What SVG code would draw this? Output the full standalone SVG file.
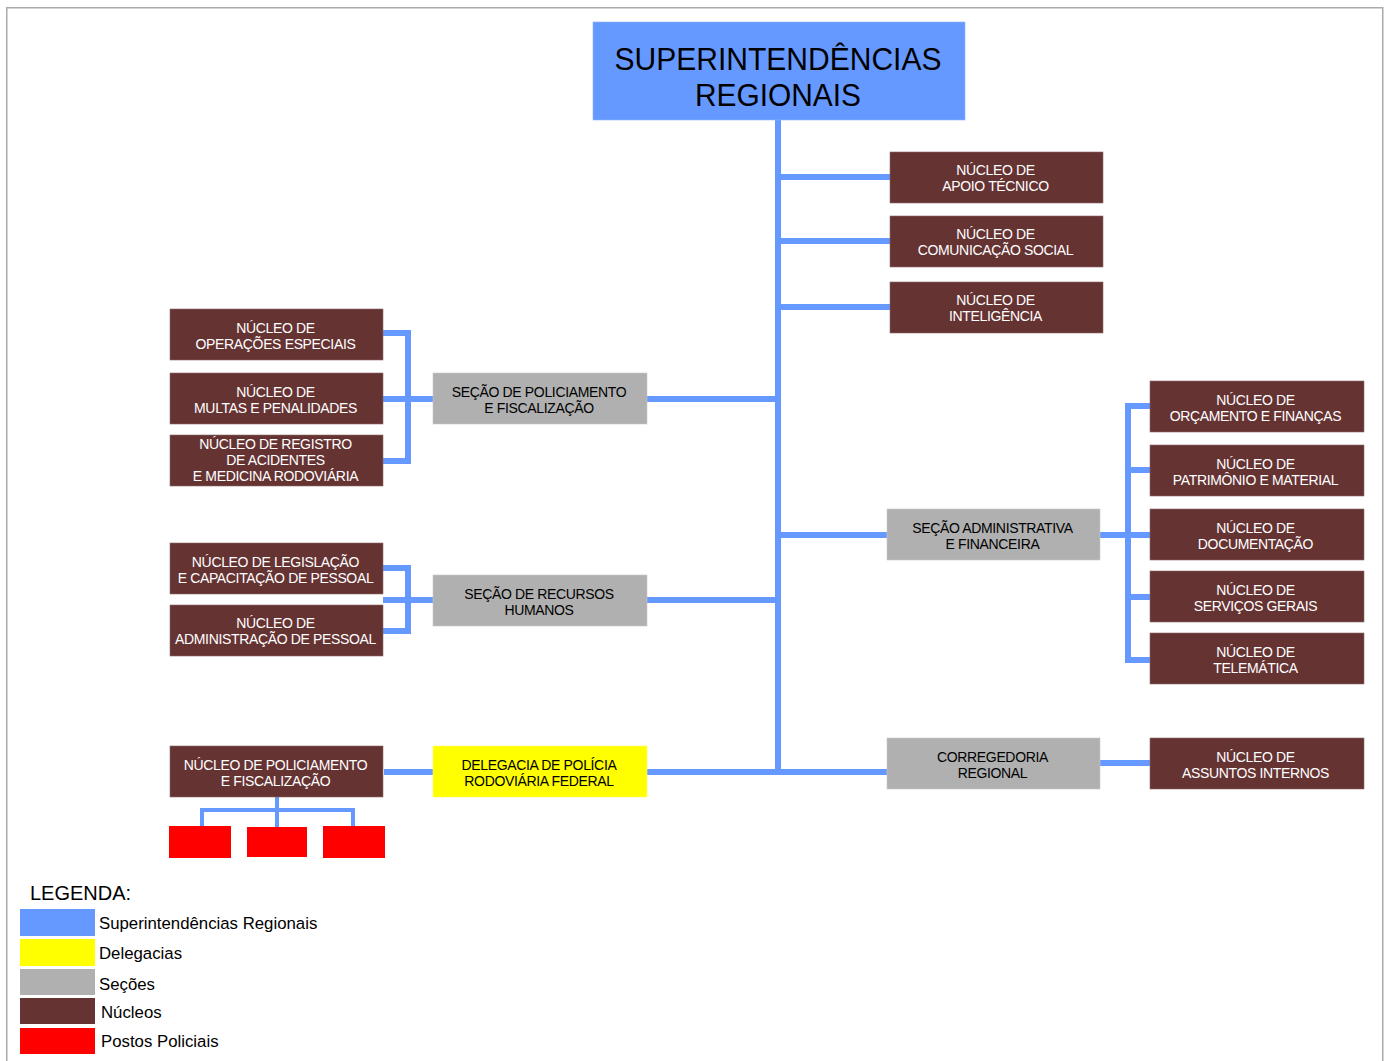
<svg xmlns="http://www.w3.org/2000/svg" width="1390" height="1061" viewBox="0 0 1390 1061">
<style>
.nuc{fill:#663333;stroke:#8a6a6a;stroke-width:0.6}
.sec{fill:#b0b0b0;stroke:#c8c8c8;stroke-width:0.6}
.t{font-family:"Liberation Sans",Arial,sans-serif;font-size:14px;letter-spacing:-0.35px;text-anchor:middle}
.w{fill:#ffffff}
.k{fill:#000000}
.ln{stroke:#6699ff;stroke-width:6;fill:none;stroke-linecap:butt}
.ln4{stroke:#6699ff;stroke-width:4;fill:none}
.lg{font-family:"Liberation Sans",Arial,sans-serif;fill:#000}
</style>
<rect x="0" y="0" width="1390" height="1061" fill="#ffffff"/>
<rect x="6.75" y="7.75" width="1376" height="1070" fill="none" stroke="#aaaaaa" stroke-width="1.5"/>

<g id="connectors">
  <line class="ln" x1="778" y1="120" x2="778" y2="775"/>
  <line class="ln" x1="778" y1="177" x2="890" y2="177"/>
  <line class="ln" x1="778" y1="241" x2="890" y2="241"/>
  <line class="ln" x1="778" y1="307" x2="890" y2="307"/>
  <line class="ln" x1="647" y1="399" x2="781" y2="399"/>
  <line class="ln" x1="647" y1="600" x2="781" y2="600"/>
  <line class="ln" x1="647" y1="772" x2="887" y2="772"/>
  <line class="ln" x1="775" y1="535" x2="887" y2="535"/>
  <line class="ln" x1="384" y1="772" x2="433" y2="772"/>
  <path class="ln" d="M383 333 H408 V461 H383"/>
  <line class="ln" x1="383" y1="399" x2="433" y2="399"/>
  <path class="ln" d="M383 568 H408 V631 H383"/>
  <line class="ln" x1="383" y1="600" x2="433" y2="600"/>
  <path class="ln" d="M1150 406 H1128 V660 H1150"/>
  <line class="ln" x1="1100" y1="535" x2="1150" y2="535"/>
  <line class="ln" x1="1128" y1="470" x2="1150" y2="470"/>
  <line class="ln" x1="1128" y1="597" x2="1150" y2="597"/>
  <line class="ln" x1="1100" y1="763" x2="1150" y2="763" stroke-width="7"/>
  <line class="ln4" x1="277" y1="797" x2="277" y2="827"/>
  <path class="ln4" d="M202 826 V810 H353 V826"/>
</g>

<g id="superintendencias">
  <rect x="593" y="22" width="372" height="98" fill="#6699ff" stroke="#8fb3ff" stroke-width="0.6"/>
  <text x="778" y="70" font-family="Liberation Sans,Arial,sans-serif" font-size="31" text-anchor="middle" textLength="327" lengthAdjust="spacingAndGlyphs">SUPERINTENDÊNCIAS</text>
  <text x="778" y="106" font-family="Liberation Sans,Arial,sans-serif" font-size="31" text-anchor="middle" textLength="166" lengthAdjust="spacingAndGlyphs">REGIONAIS</text>
</g>

<g id="n-apoio"><rect class="nuc" x="890" y="152" width="213" height="51"/><text class="t w" x="995.5" y="175">NÚCLEO DE</text><text class="t w" x="995.5" y="191">APOIO TÉCNICO</text></g>
<g id="n-comunicacao"><rect class="nuc" x="890" y="216" width="213" height="51"/><text class="t w" x="995.5" y="239">NÚCLEO DE</text><text class="t w" x="995.5" y="255">COMUNICAÇÃO SOCIAL</text></g>
<g id="n-inteligencia"><rect class="nuc" x="890" y="282" width="213" height="51"/><text class="t w" x="995.5" y="305">NÚCLEO DE</text><text class="t w" x="995.5" y="321">INTELIGÊNCIA</text></g>

<g id="n-operacoes"><rect class="nuc" x="170" y="309" width="213" height="51"/><text class="t w" x="275.5" y="333">NÚCLEO DE</text><text class="t w" x="275.5" y="349">OPERAÇÕES ESPECIAIS</text></g>
<g id="n-multas"><rect class="nuc" x="170" y="373" width="213" height="51"/><text class="t w" x="275.5" y="397">NÚCLEO DE</text><text class="t w" x="275.5" y="413">MULTAS E PENALIDADES</text></g>
<g id="n-registro"><rect class="nuc" x="170" y="435" width="213" height="51"/><text class="t w" x="275.5" y="449">NÚCLEO DE REGISTRO</text><text class="t w" x="275.5" y="465">DE ACIDENTES</text><text class="t w" x="275.5" y="481">E MEDICINA RODOVIÁRIA</text></g>

<g id="s-policiamento"><rect class="sec" x="433" y="373" width="214" height="51"/><text class="t k" x="539" y="397">SEÇÃO DE POLICIAMENTO</text><text class="t k" x="539" y="413">E FISCALIZAÇÃO</text></g>

<g id="n-legislacao"><rect class="nuc" x="170" y="543" width="213" height="51"/><text class="t w" x="275.5" y="567">NÚCLEO DE LEGISLAÇÃO</text><text class="t w" x="275.5" y="583">E CAPACITAÇÃO DE PESSOAL</text></g>
<g id="n-administracao"><rect class="nuc" x="170" y="605" width="213" height="51"/><text class="t w" x="275.5" y="628">NÚCLEO DE</text><text class="t w" x="275.5" y="644">ADMINISTRAÇÃO DE PESSOAL</text></g>

<g id="s-rh"><rect class="sec" x="433" y="575" width="214" height="51"/><text class="t k" x="539" y="599">SEÇÃO DE RECURSOS</text><text class="t k" x="539" y="615">HUMANOS</text></g>

<g id="n-policiamento"><rect class="nuc" x="170" y="746" width="213" height="51"/><text class="t w" x="275.5" y="770">NÚCLEO DE POLICIAMENTO</text><text class="t w" x="275.5" y="786">E FISCALIZAÇÃO</text></g>
<g id="delegacia"><rect x="433" y="746" width="214" height="51" fill="#ffff00" stroke="#ffff66" stroke-width="0.6"/><text class="t k" x="539" y="770">DELEGACIA DE POLÍCIA</text><text class="t k" x="539" y="786">RODOVIÁRIA FEDERAL</text></g>

<g id="posto-1"><rect x="169" y="826" width="62" height="32" fill="#ff0000"/></g>
<g id="posto-2"><rect x="247" y="827" width="60" height="30" fill="#ff0000"/></g>
<g id="posto-3"><rect x="323" y="826" width="62" height="32" fill="#ff0000"/></g>

<g id="s-administrativa"><rect class="sec" x="887" y="509" width="213" height="51"/><text class="t k" x="992.5" y="533">SEÇÃO ADMINISTRATIVA</text><text class="t k" x="992.5" y="549">E FINANCEIRA</text></g>

<g id="n-orcamento"><rect class="nuc" x="1150" y="381" width="214" height="51"/><text class="t w" x="1255.5" y="405">NÚCLEO DE</text><text class="t w" x="1255.5" y="421">ORÇAMENTO E FINANÇAS</text></g>
<g id="n-patrimonio"><rect class="nuc" x="1150" y="445" width="214" height="51"/><text class="t w" x="1255.5" y="469">NÚCLEO DE</text><text class="t w" x="1255.5" y="485">PATRIMÔNIO E MATERIAL</text></g>
<g id="n-documentacao"><rect class="nuc" x="1150" y="509" width="214" height="51"/><text class="t w" x="1255.5" y="533">NÚCLEO DE</text><text class="t w" x="1255.5" y="549">DOCUMENTAÇÃO</text></g>
<g id="n-servicos"><rect class="nuc" x="1150" y="571" width="214" height="51"/><text class="t w" x="1255.5" y="595">NÚCLEO DE</text><text class="t w" x="1255.5" y="611">SERVIÇOS GERAIS</text></g>
<g id="n-telematica"><rect class="nuc" x="1150" y="633" width="214" height="51"/><text class="t w" x="1255.5" y="657">NÚCLEO DE</text><text class="t w" x="1255.5" y="673">TELEMÁTICA</text></g>

<g id="corregedoria"><rect class="sec" x="887" y="738" width="213" height="51"/><text class="t k" x="992.5" y="762">CORREGEDORIA</text><text class="t k" x="992.5" y="778">REGIONAL</text></g>
<g id="n-assuntos"><rect class="nuc" x="1150" y="738" width="214" height="51"/><text class="t w" x="1255.5" y="762">NÚCLEO DE</text><text class="t w" x="1255.5" y="778">ASSUNTOS INTERNOS</text></g>

<g id="legenda">
  <text class="lg" x="30" y="900" font-size="20">LEGENDA:</text>
  <rect x="20" y="909" width="75" height="27" fill="#6699ff"/>
  <rect x="20" y="939" width="75" height="27" fill="#ffff00"/>
  <rect x="20" y="969" width="75" height="26" fill="#b0b0b0"/>
  <rect x="20" y="998" width="75" height="26" fill="#663333"/>
  <rect x="20" y="1028" width="75" height="26" fill="#ff0000"/>
  <text class="lg" x="99" y="929" font-size="16.8">Superintendências Regionais</text>
  <text class="lg" x="99" y="959" font-size="16.8">Delegacias</text>
  <text class="lg" x="99" y="990" font-size="16.8">Seções</text>
  <text class="lg" x="101" y="1018" font-size="16.8">Núcleos</text>
  <text class="lg" x="101" y="1047" font-size="16.8">Postos Policiais</text>
</g>
</svg>
